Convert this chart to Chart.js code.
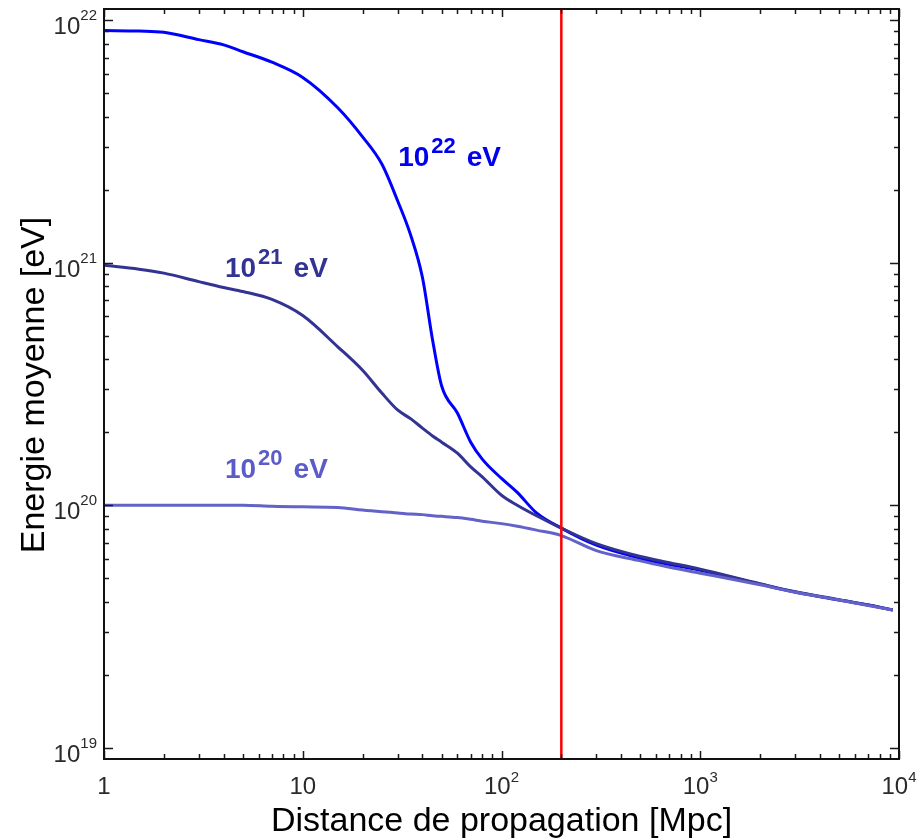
<!DOCTYPE html>
<html>
<head>
<meta charset="utf-8">
<script src="https://cdn.jsdelivr.net/npm/chart.js@4/dist/chart.umd.min.js"></script>
<style>
  html, body { margin: 0; padding: 0; background: #fff; }
  #wrap { width: 918px; height: 839px; }
</style>
</head>
<body>
<div id="wrap"><canvas id="chart" width="918" height="839"></canvas></div>
<script>
// distances in Mpc
const distances = [1, 1.5, 2, 3, 4, 5, 7, 10, 15, 20, 25, 30, 35, 40, 45, 50, 60, 70, 80, 100, 120, 150, 200, 300, 500, 700, 1000, 2000, 3000, 5000, 7000, 9300];

// mean energy in eV, one array per injection energy
const energy22 = [9.05e21, 9.0e21, 8.9e21, 8.3e21, 7.9e21, 7.4e21, 6.7e21, 5.8e21, 4.35e21, 3.3e21, 2.55e21, 1.8e21, 1.29e21, 8.7e20, 4.8e20, 3.1e20, 2.4e20, 1.82e20, 1.55e20, 1.29e20, 1.13e20, 9.3e19, 8.05e19, 6.85e19, 6.05e19, 5.7e19, 5.4e19, 4.73e19, 4.39e19, 4.07e19, 3.88e19, 3.7e19];
const energy21 = [9.75e20, 9.4e20, 9.05e20, 8.35e20, 7.9e20, 7.6e20, 7.05e20, 6.05e20, 4.5e20, 3.6e20, 2.9e20, 2.47e20, 2.27e20, 2.08e20, 1.93e20, 1.82e20, 1.64e20, 1.44e20, 1.31e20, 1.1e20, 1.0e20, 9.05e19, 8.05e19, 6.95e19, 6.15e19, 5.8e19, 5.45e19, 4.75e19, 4.4e19, 4.08e19, 3.88e19, 3.7e19];
const energy20 = [1.0e20, 1.0e20, 1.0e20, 1.0e20, 1.0e20, 1.0e20, 9.9e19, 9.85e19, 9.8e19, 9.55e19, 9.4e19, 9.3e19, 9.2e19, 9.15e19, 9.05e19, 9.0e19, 8.9e19, 8.75e19, 8.6e19, 8.4e19, 8.2e19, 7.9e19, 7.5e19, 6.5e19, 5.9e19, 5.55e19, 5.25e19, 4.7e19, 4.38e19, 4.07e19, 3.86e19, 3.7e19];

// GZK marker distance (Mpc)
const cutDistance = 200;

// tick label exponents
const xTickExps = [0, 1, 2, 3, 4];
const yTickExps = [19, 20, 21, 22];

const X_MIN = 1, X_MAX = 1e4;
const Y_MIN = 9e18, Y_MAX = 1.11e22;

// curve labels: [base, exponent, anchor distance, anchor energy, colour]
const curveLabels = [
  ["10", "22", 30.2, 2.5e21, "#0000ee"],
  ["10", "21", 4.06, 8.7e20, "#333394"],
  ["10", "20", 4.06, 1.29e20, "#5c5cc8"]
];

const FONT = '"Liberation Sans", Arial, sans-serif';

function toPoints(xs, ys) {
  return xs.map((d, i) => ({ x: d, y: ys[i] }));
}

function drawPower(ctx, base, exp, x, y, baseSize, supSize, rise, align, bold, supGap) {
  const w = bold ? "bold " : "";
  const gap = supGap || 0;
  ctx.font = w + baseSize + "px " + FONT;
  const bw = ctx.measureText(base).width;
  ctx.font = w + supSize + "px " + FONT;
  const sw = exp ? ctx.measureText(exp).width + gap : 0;
  let left = x;
  if (align === "center") left = x - (bw + sw) / 2;
  if (align === "right") left = x - bw - sw;
  ctx.textAlign = "left";
  ctx.textBaseline = "alphabetic";
  ctx.font = w + baseSize + "px " + FONT;
  ctx.fillText(base, left, y);
  if (exp) {
    ctx.font = w + supSize + "px " + FONT;
    ctx.fillText(exp, left + bw + gap, y - rise);
  }
  return left + bw + sw;
}

const framePlugin = {
  id: "frame",
  afterDraw(chart) {
    const { ctx, chartArea: a, scales: { x, y } } = chart;
    ctx.save();

    // inward ticks on all four sides
    ctx.strokeStyle = "#1a1a1a";
    ctx.lineWidth = 1.5;
    ctx.beginPath();
    for (let k = 0; k <= 4; k++) {
      for (let m = 1; m <= 9; m++) {
        const v = m * Math.pow(10, k);
        if (v < X_MIN || v > X_MAX) continue;
        const px = Math.round(x.getPixelForValue(v)) + 0.5;
        const len = m === 1 ? 8 : 5;
        ctx.moveTo(px, a.bottom); ctx.lineTo(px, a.bottom - len);
        ctx.moveTo(px, a.top); ctx.lineTo(px, a.top + len);
      }
    }
    for (let k = 18; k <= 22; k++) {
      for (let m = 1; m <= 9; m++) {
        const v = m * Math.pow(10, k);
        if (v <= Y_MIN || v >= Y_MAX) continue;
        const py = Math.round(y.getPixelForValue(v)) + 0.5;
        const len = m === 1 ? 9 : 5;
        ctx.moveTo(a.left, py); ctx.lineTo(a.left + len, py);
        ctx.moveTo(a.right, py); ctx.lineTo(a.right - len, py);
      }
    }
    ctx.stroke();

    // frame
    ctx.lineWidth = 2;
    ctx.strokeStyle = "#111";
    ctx.strokeRect(a.left, a.top, a.right - a.left, a.bottom - a.top);

    // tick labels
    ctx.fillStyle = "#2a2a2a";
    xTickExps.forEach((e) => {
      const px = x.getPixelForValue(Math.pow(10, e));
      const base = e === 0 ? "1" : "10";
      const exp = e > 1 ? String(e) : "";
      drawPower(ctx, base, exp, px, a.bottom + 35, 24, 15, 12, "center");
    });
    yTickExps.forEach((e) => {
      const py = y.getPixelForValue(Math.pow(10, e));
      drawPower(ctx, "10", String(e), a.left - 7, py + 14, 24, 15, 14, "right");
    });

    // axis titles
    ctx.fillStyle = "#000";
    ctx.font = "34px " + FONT;
    ctx.textAlign = "center";
    ctx.textBaseline = "alphabetic";
    ctx.fillText("Distance de propagation [Mpc]", (a.left + a.right) / 2, 831);
    ctx.save();
    ctx.translate(44, 385);
    ctx.rotate(-Math.PI / 2);
    ctx.fillText("Energie moyenne [eV]", 0, 0);
    ctx.restore();

    // curve labels
    curveLabels.forEach(([base, exp, d, en, col]) => {
      ctx.fillStyle = col;
      const px = x.getPixelForValue(d);
      const py = y.getPixelForValue(en);
      const end = drawPower(ctx, base, exp, px, py, 28, 22, 13, "left", true, 2);
      ctx.font = "bold 28px " + FONT;
      ctx.fillText("eV", end + 11, py);
    });

    ctx.restore();
  }
};

new Chart(document.getElementById("chart"), {
  type: "line",
  data: {
    datasets: [
      {
        label: "cut",
        data: [{ x: cutDistance, y: Y_MIN }, { x: cutDistance, y: Y_MAX }],
        borderColor: "#ff0000",
        borderWidth: 2.5,
        pointRadius: 0,
      },
      {
        label: "1e20",
        data: toPoints(distances, energy20),
        borderColor: "#6262c8",
        borderWidth: 3,
        pointRadius: 0,
      },
      {
        label: "1e21",
        data: toPoints(distances, energy21),
        borderColor: "#333394",
        borderWidth: 3,
        pointRadius: 0,
      },
      {
        label: "1e22",
        data: toPoints(distances, energy22),
        borderColor: "#0000ff",
        borderWidth: 3,
        pointRadius: 0,
      },
    ],
  },
  options: {
    responsive: false,
    animation: false,
    layout: { padding: { top: 9, right: 19, left: 0, bottom: 0 } },
    plugins: { legend: { display: false }, tooltip: { enabled: false } },
    elements: { line: { cubicInterpolationMode: "monotone" } },
    scales: {
      x: {
        type: "logarithmic",
        min: X_MIN,
        max: X_MAX,
        ticks: { display: false },
        grid: { display: false },
        border: { display: false },
        afterFit(s) { s.height = 80; },
      },
      y: {
        type: "logarithmic",
        min: Y_MIN,
        max: Y_MAX,
        ticks: { display: false },
        grid: { display: false },
        border: { display: false },
        afterFit(s) { s.width = 104; },
      },
    },
  },
  plugins: [framePlugin],
});
</script>
</body>
</html>
